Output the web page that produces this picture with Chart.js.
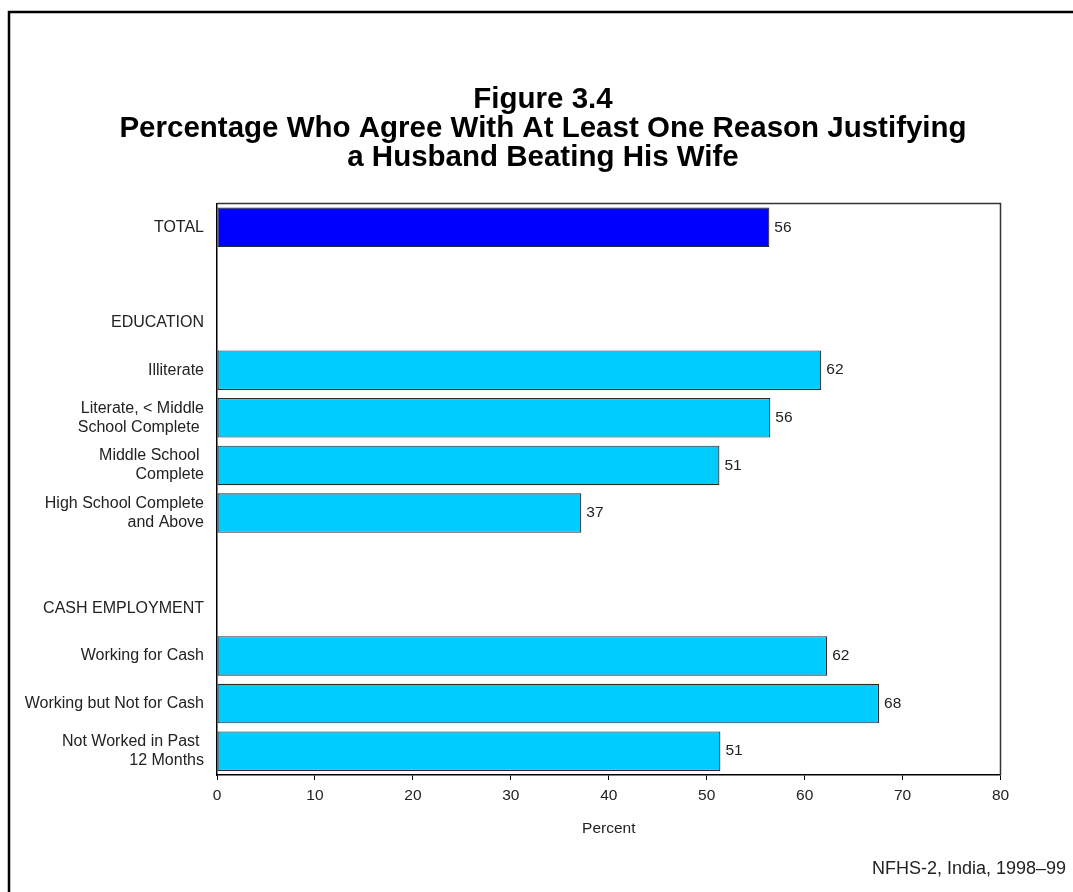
<!DOCTYPE html>
<html>
<head>
<meta charset="utf-8">
<script src="https://cdn.jsdelivr.net/npm/chart.js@4/dist/chart.umd.min.js"></script>
<style>
  html, body { margin: 0; padding: 0; background: #fff; }
  canvas { display: block; }
</style>
</head>
<body>
<canvas id="chart" width="1073" height="892"></canvas>
<script>
const categories = [
  'TOTAL',
  '',
  'EDUCATION',
  'Illiterate',
  ['Literate, < Middle', 'School Complete '],
  ['Middle School ', 'Complete'],
  ['High School Complete', 'and Above'],
  '',
  'CASH EMPLOYMENT',
  'Working for Cash',
  'Working but Not for Cash',
  ['Not Worked in Past ', '12 Months']
];
const percentValues = [56.4, null, null, 61.7, 56.5, 51.3, 37.2, null, null, 62.3, 67.6, 51.4];
const valueLabels = ['56', '', '', '62', '56', '51', '37', '', '', '62', '68', '51'];
const xTicks = [0, 10, 20, 30, 40, 50, 60, 70, 80];
const titleLines = ['Figure 3.4', 'Percentage Who Agree With At Least One Reason Justifying', 'a Husband Beating His Wife'];
const sourceNote = 'NFHS-2, India, 1998\u201399';

const FONT = "'Liberation Sans', Arial, sans-serif";

// frame, title and source note
const decorPlugin = {
  id: 'decor',
  beforeDraw(chart) {
    const ctx = chart.ctx;
    ctx.save();
    ctx.fillStyle = '#fff';
    ctx.fillRect(0, 0, chart.width, chart.height);
    ctx.strokeStyle = '#000';
    ctx.lineWidth = 2.5;
    ctx.beginPath();
    ctx.moveTo(9, chart.height);
    ctx.lineTo(9, 12);
    ctx.lineTo(chart.width, 12);
    ctx.stroke();

    ctx.fillStyle = '#000';
    ctx.textAlign = 'center';
    ctx.textBaseline = 'middle';
    ctx.font = 'bold 29.5px ' + FONT;
    titleLines.forEach((t, i) => ctx.fillText(t, 543, 100 + i * 29));

    ctx.fillStyle = '#222';
    ctx.textAlign = 'right';
    ctx.font = '18px ' + FONT;
    ctx.fillText(sourceNote, 1066, 869);
    ctx.restore();
  },
  afterDatasetsDraw(chart) {
    const ctx = chart.ctx;
    const a = chart.chartArea;
    ctx.save();
    ctx.strokeStyle = '#333';
    ctx.lineWidth = 1.5;
    ctx.beginPath();
    ctx.moveTo(a.left, a.top);
    ctx.lineTo(a.right, a.top);
    ctx.lineTo(a.right, a.bottom);
    ctx.stroke();

    // value labels at bar ends
    const meta = chart.getDatasetMeta(0);
    ctx.fillStyle = '#222';
    ctx.font = '15.5px ' + FONT;
    ctx.textAlign = 'left';
    ctx.textBaseline = 'middle';
    meta.data.forEach((bar, i) => {
      if (percentValues[i] == null) return;
      ctx.fillText(valueLabels[i], bar.x + 5, bar.y);
    });
    ctx.restore();
  }
};

new Chart(document.getElementById('chart'), {
  type: 'bar',
  data: {
    labels: categories,
    datasets: [{
      data: percentValues,
      backgroundColor: categories.map((c, i) => i === 0 ? '#0000ff' : '#00ccff'),
      borderColor: '#2b2b2b',
      borderWidth: 1.2,
      borderSkipped: false,
      barPercentage: 0.83,
      categoryPercentage: 1
    }]
  },
  options: {
    indexAxis: 'y',
    responsive: false,
    animation: false,
    layout: { padding: { left: 0, top: 203.5, right: 72.5, bottom: 52 } },
    plugins: {
      legend: { display: false },
      tooltip: { enabled: false }
    },
    scales: {
      x: {
        type: 'linear',
        min: 0,
        max: 80,
        afterBuildTicks: s => { s.ticks = xTicks.map(v => ({ value: v })); },
        afterFit: s => { s.height = 65; },
        grid: { drawOnChartArea: false, drawTicks: true, tickLength: 5, color: '#000', lineWidth: 1 },
        border: { display: true, color: '#000', width: 1.5 },
        ticks: { color: '#222', padding: 6, font: { family: FONT, size: 15.5 } },
        title: { display: true, text: 'Percent', color: '#222', padding: { top: 0, bottom: 2 }, font: { family: FONT, size: 15.5 } }
      },
      y: {
        afterFit: s => { s.width = 217; },
        grid: { display: false, drawTicks: false },
        border: { display: true, color: '#000', width: 1.5 },
        ticks: { color: '#222', padding: 13, font: { family: FONT, size: 16, lineHeight: 1.2 } }
      }
    }
  },
  plugins: [decorPlugin]
});
</script>
</body>
</html>
